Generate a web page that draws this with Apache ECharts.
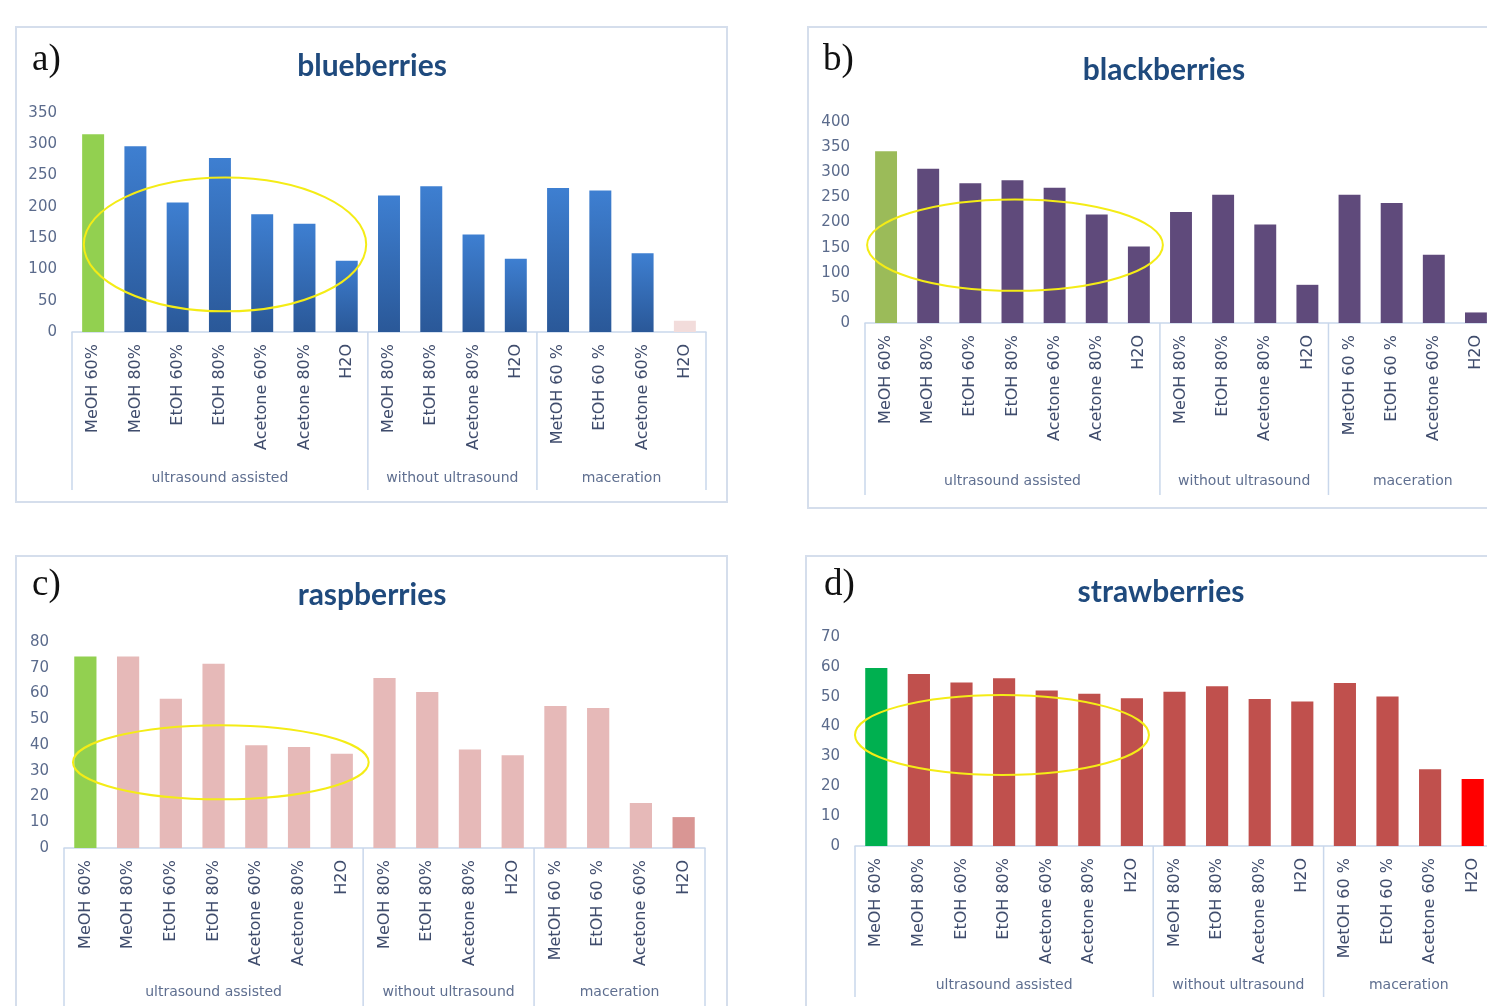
<!DOCTYPE html>
<html>
<head>
<meta charset="utf-8">
<script src="https://cdn.jsdelivr.net/npm/echarts@6/dist/echarts.min.js"></script>
<style>
  html, body { margin: 0; padding: 0; background: #ffffff; overflow: hidden; }
  #chart { width: 1520px; height: 1006px; }
</style>
</head>
<body>
<div id="chart"></div>
<script>
// ---- data ----
const categories = ['MeOH 60%', 'MeOH 80%', 'EtOH 60%', 'EtOH 80%', 'Acetone 60%', 'Acetone 80%', 'H2O',
                    'MeOH 80%', 'EtOH 80%', 'Acetone 80%', 'H2O',
                    'MetOH 60 %', 'EtOH 60 %', 'Acetone 60%', 'H2O'];
const groupNames = ['ultrasound assisted', 'without ultrasound', 'maceration'];
const groupSizes = [7, 4, 4];

const blueberries  = [316, 297, 207, 278, 188, 173, 114, 218, 233, 156, 117, 230, 226, 126, 18];
const blackberries = [342, 307, 278, 284, 269, 216, 152, 221, 255, 196, 76, 255, 239, 136, 21];
const raspberries  = [74.4, 74.4, 58, 71.6, 39.9, 39.2, 36.6, 66, 60.6, 38.3, 36, 55.1, 54.4, 17.5, 12];
const strawberries = [59.6, 57.6, 54.8, 56.2, 52.1, 51, 49.5, 51.7, 53.5, 49.2, 48.4, 54.6, 50.1, 25.7, 22.4];

const yMax  = [350, 400, 80, 70];
const yStep = [50, 50, 10, 10];

// ---- layout and styling of the four panels ----
const panels = [
  {
    tag: 'a)', title: 'blueberries', values: blueberries,
    box: [16, 27, 711, 475], grid: { left: 72, top: 113, width: 634, height: 219 },
    titleAt: [372, 66], tagAt: [32, 60], sepLen: 158, groupDy: 146,
    bar: new echarts.graphic.LinearGradient(0, 0, 0, 1, [
      { offset: 0, color: '#3e7fd1' }, { offset: 1, color: '#2a5898' }]),
    first: '#92d050', last: '#f2dcdb',
    ring: { cx: 3.12, cy: 140, rx: 3.34, ry: 107 }
  },
  {
    tag: 'b)', title: 'blackberries', values: blackberries,
    box: [808, 27, 720, 481], grid: { left: 865, top: 122, width: 632, height: 201 },
    titleAt: [1164, 70], tagAt: [823, 60], sepLen: 172, groupDy: 158,
    bar: '#5f4a7b', first: '#9bbb59', last: '#5f4a7b',
    ring: { cx: 3.06, cy: 155, rx: 3.51, ry: 91 }
  },
  {
    tag: 'c)', title: 'raspberries', values: raspberries,
    box: [16, 556, 711, 470], grid: { left: 64, top: 642, width: 641, height: 206 },
    titleAt: [372, 595], tagAt: [32, 585], sepLen: 170, groupDy: 144,
    bar: '#e6b9b8', first: '#92d050', last: '#d99694',
    ring: { cx: 3.17, cy: 33.3, rx: 3.46, ry: 14.4 }
  },
  {
    tag: 'd)', title: 'strawberries', values: strawberries,
    box: [806, 556, 720, 470], grid: { left: 855, top: 637, width: 639, height: 209 },
    titleAt: [1161, 592], tagAt: [824, 585], sepLen: 151, groupDy: 139,
    bar: '#c0504d', first: '#00b050', last: '#ff0000',
    ring: { cx: 2.95, cy: 37.2, rx: 3.45, ry: 13.4 }
  }
];

const axisBlue = '#c9d7eb';
const yLabelColor = '#5b6b8c';
const catLabelColor = '#3f4c6c';
const groupLabelColor = '#5f6f90';

const groupStarts = groupSizes.map((s, i) => groupSizes.slice(0, i).reduce((a, b) => a + b, 0));

const grids = [], xAxes = [], yAxes = [], series = [], graphics = [];

panels.forEach((p, k) => {
  graphics.push({
    type: 'rect', silent: true, z: -10,
    shape: { x: p.box[0], y: p.box[1], width: p.box[2], height: p.box[3] },
    style: { fill: '#ffffff', stroke: '#d5deec', lineWidth: 2 }
  });
  graphics.push({
    type: 'text', x: p.titleAt[0], y: p.titleAt[1], silent: true,
    style: { text: p.title, font: 'bold 30px Lato', fill: '#1f4a7d',
             textAlign: 'center', textVerticalAlign: 'middle' }
  });
  graphics.push({
    type: 'text', x: p.tagAt[0], y: p.tagAt[1], silent: true,
    style: { text: p.tag, font: '37px "Liberation Serif"', fill: '#111111',
             textAlign: 'left', textVerticalAlign: 'middle' }
  });

  grids.push(Object.assign({ containLabel: false }, p.grid));

  xAxes.push({
    type: 'category', gridIndex: k, data: categories,
    axisLine: { show: true, lineStyle: { color: axisBlue, width: 1.5 } },
    axisTick: { show: false },
    axisLabel: { interval: 0, rotate: 90, margin: 12, fontSize: 16,
                 fontFamily: 'DejaVu Sans', color: catLabelColor }
  });
  yAxes.push({
    type: 'value', gridIndex: k, min: 0, max: yMax[k], interval: yStep[k],
    axisLine: { show: false }, axisTick: { show: false }, splitLine: { show: false },
    axisLabel: { margin: 15, fontSize: 15, fontFamily: 'DejaVu Sans', color: yLabelColor }
  });

  const n = p.values.length;
  series.push({
    type: 'bar', xAxisIndex: k, yAxisIndex: k, data: p.values,
    barWidth: '52%', silent: true,
    itemStyle: {
      color: (d) => d.dataIndex === 0 ? p.first : (d.dataIndex === n - 1 ? p.last : p.bar)
    }
  });

  // group separators and group names beneath the category labels
  series.push({
    type: 'custom', xAxisIndex: k, yAxisIndex: k, silent: true, z: 3,
    data: groupStarts.map((s, g) => [s, 0, g]),
    renderItem: (params, api) => {
      const g = api.value(2);
      const pt = api.coord([api.value(0), 0]);
      const band = api.size([1, 0])[0];
      const x0 = pt[0] - band / 2;
      const x1 = x0 + groupSizes[g] * band;
      const y0 = pt[1];
      const lineStyle = { stroke: axisBlue, lineWidth: 1.5 };
      const children = [
        { type: 'line', shape: { x1: x0, y1: y0, x2: x0, y2: y0 + p.sepLen }, style: lineStyle },
        { type: 'text', x: (x0 + x1) / 2, y: y0 + p.groupDy,
          style: { text: groupNames[g], font: '14px "DejaVu Sans"', fill: groupLabelColor,
                   textAlign: 'center', textVerticalAlign: 'middle' } }
      ];
      if (g === groupSizes.length - 1) {
        children.push({ type: 'line', shape: { x1: x1, y1: y0, x2: x1, y2: y0 + p.sepLen }, style: lineStyle });
      }
      return { type: 'group', children };
    }
  });

  // yellow ring around the ultrasound-assisted solvents
  series.push({
    type: 'custom', xAxisIndex: k, yAxisIndex: k, silent: true, z: 5,
    data: [[0, p.ring.cy]],
    renderItem: (params, api) => {
      const pt = api.coord([0, api.value(1)]);
      const band = api.size([1, 0])[0];
      const unit = api.size([0, 1])[1];
      return {
        type: 'ellipse',
        shape: { cx: pt[0] + p.ring.cx * band, cy: pt[1], rx: p.ring.rx * band, ry: p.ring.ry * unit },
        style: { fill: 'none', stroke: '#f4ec16', lineWidth: 2 }
      };
    }
  });
});

const chart = echarts.init(document.getElementById('chart'), null, { renderer: 'canvas' });
chart.setOption({
  backgroundColor: '#ffffff',
  animation: false,
  grid: grids,
  xAxis: xAxes,
  yAxis: yAxes,
  series: series,
  graphic: { elements: graphics }
});
</script>
</body>
</html>
